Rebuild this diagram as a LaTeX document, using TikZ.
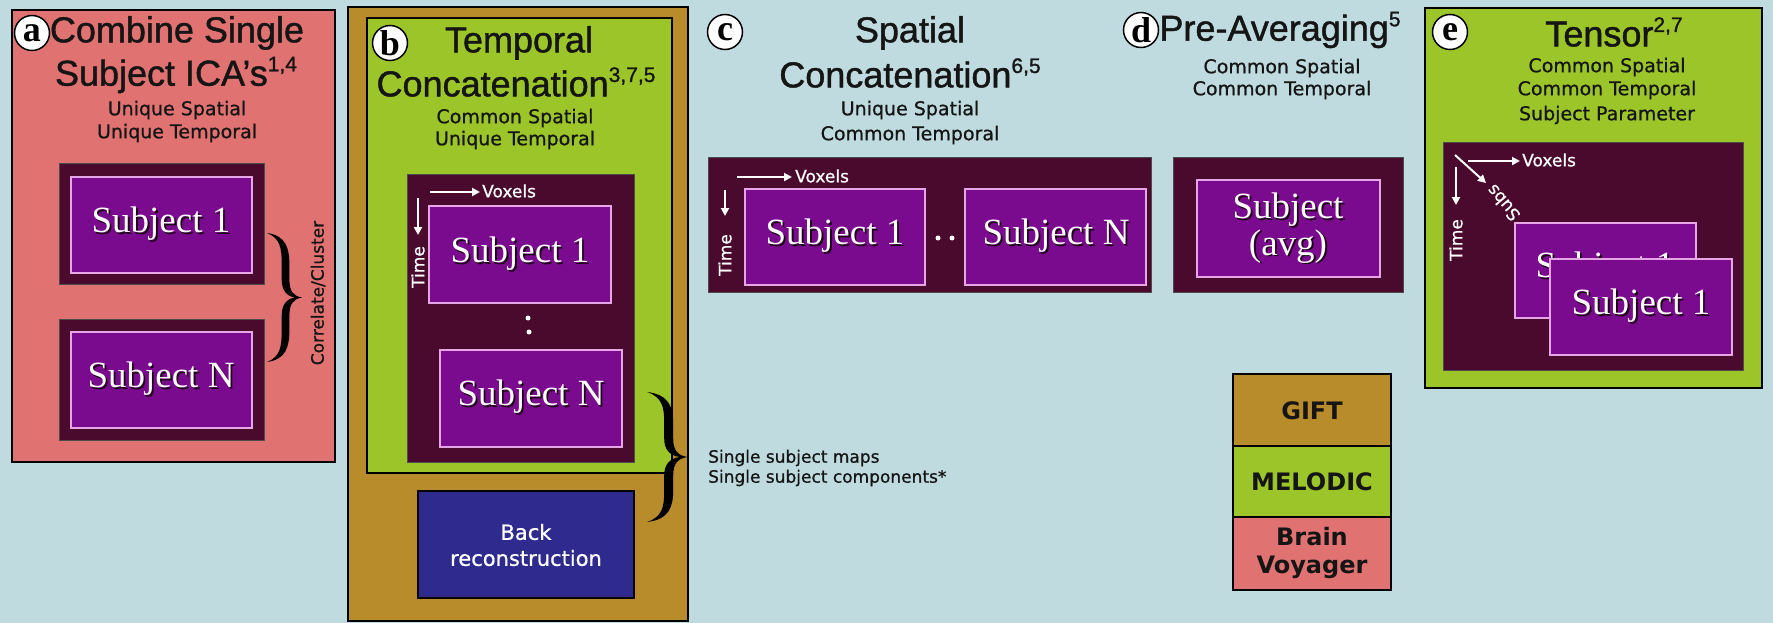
\documentclass[tikz,border=0pt]{standalone}
\usepackage{fontspec}
\setmainfont{Liberation Serif}
\newfontfamily\titlefont[FakeBold=1.2]{Liberation Sans}
\newfontfamily\smallfont[FakeBold=0.8]{DejaVu Sans}
\newfontfamily\legfont{DejaVu Sans}
\usetikzlibrary{arrows.meta}

\definecolor{bgc}{HTML}{C0DBDF}
\definecolor{pinkc}{HTML}{E07272}
\definecolor{goldc}{HTML}{B88B2B}
\definecolor{greenc}{HTML}{9CC52A}
\definecolor{darkc}{HTML}{4A0A2E}
\definecolor{purpc}{HTML}{7A0A8E}
\definecolor{purpedge}{HTML}{E6A6E6}
\definecolor{navyc}{HTML}{2F2B8E}
\definecolor{shadc}{HTML}{1E0618}
\definecolor{inkc}{HTML}{151515}

\newcommand\shtext[1]{\makebox[0pt][l]{\kern1.8pt\raisebox{-1.8pt}{\color{shadc}#1}}#1}
\newcommand\supnum[1]{\raisebox{0.40em}{\fontsize{21}{21}\selectfont #1}}

\tikzset{
  panelbox/.style={draw=black, line width=2pt},
  darkbox/.style={fill=darkc, draw=black!70, line width=1pt},
  subjbox/.style={fill=purpc, draw=purpedge, line width=1.6pt},
  subjtext/.style={text=white, font=\fontsize{37}{40}\selectfont, inner sep=0, align=center},
  ttl/.style={font=\titlefont\fontsize{36}{40}\selectfont, inner sep=0, text=inkc},
  subttl/.style={font=\smallfont\fontsize{19}{22}\selectfont, inner sep=0, text=inkc},
  smalllabel/.style={font=\smallfont\fontsize{17}{20}\selectfont, inner sep=0, text=inkc},
  whitelabel/.style={font=\smallfont\fontsize{17}{20}\selectfont, inner sep=0, text=white},
  circlet/.style={circle, draw=black, fill=white, line width=1.5pt, minimum size=35pt, inner sep=0,
     font=\bfseries\fontsize{36}{36}\selectfont},
  warrow/.style={draw=white, line width=2pt, -{Triangle[length=8pt,width=8pt]}},
  legtext/.style={font=\legfont\bfseries\fontsize{24}{28}\selectfont, inner sep=0, align=center, text=inkc},
  cbrace/.pic={
    \fill (0,0) .. controls (0.55,0.02) and (0.64,0.12) .. (0.64,0.25)
      -- (0.64,0.36) .. controls (0.64,0.45) and (0.75,0.49) .. (1,0.5)
      .. controls (0.75,0.51) and (0.64,0.55) .. (0.64,0.64)
      -- (0.64,0.75) .. controls (0.64,0.88) and (0.55,0.98) .. (0,1)
      .. controls (0.38,0.96) and (0.42,0.88) .. (0.42,0.76)
      -- (0.42,0.64) .. controls (0.42,0.56) and (0.55,0.51) .. (0.8,0.5)
      .. controls (0.55,0.49) and (0.42,0.44) .. (0.42,0.36)
      -- (0.42,0.24) .. controls (0.42,0.12) and (0.38,0.04) .. (0,0) -- cycle;
  }
}

\begin{document}
\begin{tikzpicture}[x=1pt,y=-1pt]
\useasboundingbox (0,0) rectangle (1773,623);
\fill[bgc] (0,0) rectangle (1773,623);

% ---------------- panel a
\draw[panelbox, fill=pinkc] (12,10) rectangle (335,462);
\node[circlet] (ca) at (32,33) {a};
\node[ttl] (ta1) at (177,33) {Combine Single};
\node[ttl] (ta2) at (176,75) {Subject ICA’s\supnum{1,4}};
\node[subttl] (sa1) at (177,110) {Unique Spatial};
\node[subttl] (sa2) at (177,133) {Unique Temporal};
\draw[darkbox] (59,164) rectangle (264,284);
\draw[subjbox] (71,177) rectangle (252,273);
\node[subjtext] (a1) at (161,225) {\shtext{Subject 1}};
\draw[darkbox] (59,319) rectangle (264,440);
\draw[subjbox] (71,332) rectangle (252,428);
\node[subjtext] (an) at (161,380) {\shtext{Subject N}};
\pic[xscale=35, yscale=129] at (267,233) {cbrace};
\node[smalllabel, rotate=90] (corr) at (318,293) {Correlate/Cluster};

% ---------------- panel b
\draw[panelbox, fill=goldc] (348,7) rectangle (688,621);
\draw[panelbox, fill=greenc] (367,18) rectangle (672,473);
\node[circlet] (cb) at (390,43) {b};
\node[ttl] (tb1) at (519,43) {Temporal};
\node[ttl] (tb2) at (516,82) {Concatenation\supnum{3,7,5}};
\node[subttl] (sb1) at (515,118) {Common Spatial};
\node[subttl] (sb2) at (515,140) {Unique Temporal};
\draw[darkbox] (407,175) rectangle (634,462);
\coordinate (bvx0) at (430,192); \coordinate (bvx1) at (480,192);
\draw[warrow] (bvx0) -- (bvx1);
\node[whitelabel, anchor=west] (bvox) at (482,191) {Voxels};
\coordinate (btm0) at (418,198); \coordinate (btm1) at (418,235);
\draw[warrow] (btm0) -- (btm1);
\node[whitelabel, rotate=90] (btime) at (418,267) {Time};
\draw[subjbox] (429,206) rectangle (611,303);
\node[subjtext] (b1) at (520,255) {\shtext{Subject 1}};
\fill[white] (528,318) circle (2.5) (529,332) circle (2.5);
\draw[subjbox] (440,350) rectangle (622,447);
\node[subjtext] (bn) at (531,398) {\shtext{Subject N}};
\draw[panelbox, fill=navyc] (418,491) rectangle (634,598);
\node[font=\smallfont\fontsize{21}{26}\selectfont, text=white, align=center, inner sep=0] (back) at (526,545) {Back\\reconstruction};
\pic[xscale=41, yscale=130] at (647,392) {cbrace};
\node[smalllabel, anchor=west, align=left] (maps) at (708,468) {Single subject maps\\Single subject components*};

% ---------------- panel c
\node[circlet] (cc) at (725,32) {c};
\node[ttl] (tc1) at (910,33) {Spatial};
\node[ttl] (tc2) at (910,73) {Concatenation\supnum{6,5}};
\node[subttl] (sc1) at (910,110) {Unique Spatial};
\node[subttl] (sc2) at (910,135) {Common Temporal};
\draw[darkbox] (708,158) rectangle (1151,292);
\coordinate (cvx0) at (737,177); \coordinate (cvx1) at (792,177);
\draw[warrow] (cvx0) -- (cvx1);
\node[whitelabel, anchor=west] (cvox) at (795,176) {Voxels};
\coordinate (ctm0) at (725,190); \coordinate (ctm1) at (725,216);
\draw[warrow] (ctm0) -- (ctm1);
\node[whitelabel, rotate=90] (ctime) at (725,255) {Time};
\draw[subjbox] (745,189) rectangle (925,285);
\node[subjtext] (c1) at (835,237) {\shtext{Subject 1}};
\fill[white] (938,238) circle (2.5) (952,238) circle (2.5);
\draw[subjbox] (965,189) rectangle (1146,285);
\node[subjtext] (cn) at (1056,237) {\shtext{Subject N}};

% ---------------- panel d
\node[circlet] (cd) at (1141,30) {d};
\node[ttl] (td1) at (1280,30) {Pre-Averaging\supnum{5}};
\node[subttl] (sd1) at (1282,68) {Common Spatial};
\node[subttl] (sd2) at (1282,90) {Common Temporal};
\draw[darkbox] (1173,158) rectangle (1403,292);
\draw[subjbox] (1197,180) rectangle (1380,277);
\node[subjtext, font=\fontsize{37}{32}\selectfont] (davg) at (1288,229) {\shtext{Subject}\\\shtext{(avg)}};

% ---------------- panel e
\draw[panelbox, fill=greenc] (1425,8) rectangle (1762,388);
\node[circlet] (ce) at (1450,32) {e};
\node[ttl] (te1) at (1614,32) {Tensor\supnum{2,7}};
\node[subttl] (se1) at (1607,67) {Common Spatial};
\node[subttl] (se2) at (1607,90) {Common Temporal};
\node[subttl] (se3) at (1607,115) {Subject Parameter};
\draw[darkbox] (1443,143) rectangle (1743,370);
\coordinate (evx0) at (1468,161); \coordinate (evx1) at (1520,161);
\draw[warrow] (evx0) -- (evx1);
\node[whitelabel, anchor=west] (evox) at (1522,160) {Voxels};
\coordinate (etm0) at (1456,167); \coordinate (etm1) at (1456,205);
\draw[warrow] (etm0) -- (etm1);
\node[whitelabel, rotate=90] (etime) at (1456,240) {Time};
\coordinate (esb0) at (1455,155); \coordinate (esb1) at (1486,183);
\draw[warrow] (esb0) -- (esb1);
\node[whitelabel, rotate=130] (esubs) at (1503,203) {Subs};
\draw[subjbox] (1515,223) rectangle (1696,318);
\node[subjtext] (e2) at (1605,270) {\shtext{Subject 1}};
\draw[subjbox] (1550,259) rectangle (1732,355);
\node[subjtext] (e1) at (1641,307) {\shtext{Subject 1}};

% ---------------- legend
\draw[panelbox, fill=goldc] (1233,374) rectangle (1391,446);
\node[legtext] (lg) at (1312,411) {GIFT};
\draw[panelbox, fill=greenc] (1233,446) rectangle (1391,517);
\node[legtext] (lm) at (1312,482) {MELODIC};
\draw[panelbox, fill=pinkc] (1233,517) rectangle (1391,590);
\node[legtext] (lb) at (1312,553) {Brain\\Voyager};
\end{tikzpicture}
\end{document}
